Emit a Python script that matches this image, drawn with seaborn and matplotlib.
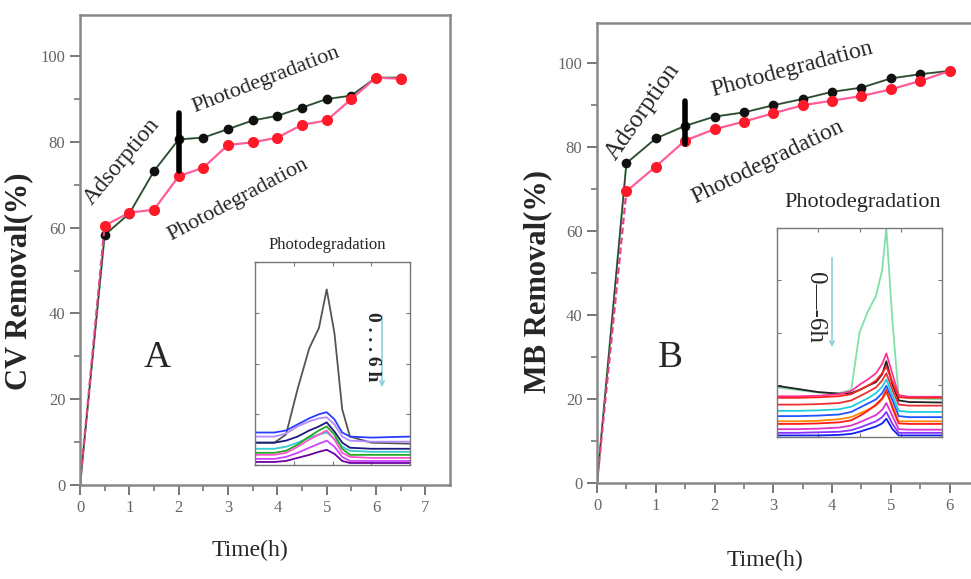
import numpy as np
import pandas as pd
import seaborn as sns
import matplotlib
matplotlib.use("Agg")
import matplotlib.pyplot as plt

# main removal curves
time_a = [0, 0.5, 1, 1.5, 2, 2.5, 3, 3.5, 4, 4.5, 5, 5.5, 6, 6.5]
cv_black = [0, 58.3, 63.3, 73.2, 80.6, 81.0, 83.0, 85.0, 86.1, 88.0, 90.0, 90.8, 95.0, 95.0]
cv_red = [0, 60.5, 63.5, 64.2, 72.0, 74.0, 79.3, 79.9, 81.0, 84.0, 85.0, 90.0, 95.0, 94.7]

time_b = [0, 0.5, 1, 1.5, 2, 2.5, 3, 3.5, 4, 4.5, 5, 5.5, 6]
mb_black = [0, 76.2, 82.1, 85.1, 87.3, 88.3, 90.0, 91.5, 93.2, 94.2, 96.4, 97.4, 98.2]
mb_red = [0, 69.5, 75.4, 81.6, 84.3, 86.1, 88.1, 90.0, 91.1, 92.2, 93.8, 95.8, 98.2]

# adsorption / photodegradation switch bars
bar_a = [2, 73.2, 86.8]
bar_b = [1.5, 80.8, 91.0]

# inset A spectra (CV)
wl_a = [400, 450, 480, 510, 540, 565, 585, 605, 625, 645, 700, 800]
spec_a = {
    "s0": [0.22, 0.22, 0.30, 0.75, 1.15, 1.35, 1.73, 1.30, 0.55, 0.28, 0.22, 0.21],
    "s1": [0.32, 0.32, 0.34, 0.40, 0.46, 0.50, 0.52, 0.45, 0.32, 0.28, 0.27, 0.28],
    "s2": [0.28, 0.28, 0.31, 0.38, 0.43, 0.46, 0.47, 0.40, 0.28, 0.24, 0.23, 0.23],
    "s3": [0.22, 0.22, 0.24, 0.28, 0.34, 0.38, 0.42, 0.33, 0.22, 0.17, 0.16, 0.16],
    "s4": [0.16, 0.16, 0.18, 0.22, 0.27, 0.30, 0.32, 0.26, 0.18, 0.14, 0.13, 0.13],
    "s5": [0.12, 0.12, 0.14, 0.20, 0.28, 0.34, 0.38, 0.30, 0.16, 0.10, 0.10, 0.10],
    "s6": [0.10, 0.10, 0.12, 0.18, 0.25, 0.30, 0.34, 0.25, 0.12, 0.08, 0.07, 0.07],
    "s7": [0.06, 0.06, 0.08, 0.12, 0.17, 0.21, 0.24, 0.18, 0.08, 0.04, 0.04, 0.04],
    "s8": [0.03, 0.03, 0.04, 0.07, 0.10, 0.13, 0.15, 0.11, 0.04, 0.02, 0.02, 0.02],
}
colors_a = ["#555555", "#2a3cff", "#b38cff", "#1a1a80", "#33cccc",
            "#22aa22", "#ff55cc", "#cc44ff", "#6a00a0"]

# inset B spectra (MB)
wl_b = [400, 450, 500, 550, 580, 600, 620, 640, 655, 665, 680, 695, 720, 800]
spec_b = {
    "g": [0.95, 0.90, 0.85, 0.84, 0.90, 2.00, 2.40, 2.70, 3.20, 4.00, 2.20, 0.78, 0.74, 0.72],
    "k": [0.98, 0.92, 0.86, 0.83, 0.84, 0.90, 0.98, 1.05, 1.20, 1.45, 1.00, 0.70, 0.67, 0.66],
    "p": [0.78, 0.78, 0.79, 0.82, 0.88, 1.00, 1.10, 1.22, 1.40, 1.60, 1.20, 0.80, 0.77, 0.77],
    "r1": [0.75, 0.75, 0.76, 0.78, 0.82, 0.90, 0.98, 1.08, 1.22, 1.35, 1.05, 0.76, 0.75, 0.75],
    "r2": [0.62, 0.62, 0.63, 0.65, 0.70, 0.78, 0.86, 0.95, 1.08, 1.22, 0.90, 0.62, 0.60, 0.60],
    "c": [0.50, 0.50, 0.51, 0.53, 0.58, 0.66, 0.74, 0.84, 0.96, 1.10, 0.80, 0.50, 0.48, 0.48],
    "b": [0.40, 0.40, 0.41, 0.43, 0.48, 0.56, 0.64, 0.72, 0.84, 0.98, 0.70, 0.40, 0.38, 0.38],
    "o": [0.30, 0.30, 0.31, 0.34, 0.38, 0.45, 0.52, 0.60, 0.72, 0.85, 0.60, 0.30, 0.30, 0.30],
    "r3": [0.25, 0.25, 0.26, 0.28, 0.32, 0.40, 0.50, 0.62, 0.74, 0.90, 0.55, 0.26, 0.25, 0.25],
    "m": [0.15, 0.15, 0.16, 0.18, 0.22, 0.28, 0.35, 0.42, 0.52, 0.65, 0.40, 0.15, 0.14, 0.14],
    "v": [0.08, 0.08, 0.09, 0.10, 0.13, 0.18, 0.24, 0.30, 0.38, 0.48, 0.25, 0.08, 0.08, 0.08],
    "b2": [0.03, 0.03, 0.03, 0.04, 0.06, 0.10, 0.15, 0.20, 0.26, 0.35, 0.15, 0.03, 0.03, 0.03],
}
colors_b = ["#7fe0a8", "#222222", "#ff3399", "#ff2020", "#ee3030", "#22ccdd",
            "#2255ff", "#ff8800", "#ff1a1a", "#dd33cc", "#8833ff", "#1020ee"]

sns.set_style("white")
plt.rcParams["font.family"] = ["Liberation Serif", "DejaVu Serif"]

W, H = 971, 579
fig = plt.figure(figsize=(W / 100, H / 100), dpi=100)


def box(l, t, r, b):
    return [l / W, (H - b) / H, (r - l) / W, (b - t) / H]


def style_main(ax, xmax, xlabel, ylabel, xl_pos, yl_pos):
    ax.set_xlim(0, xmax)
    ax.set_ylim(0, 109.6)
    ax.set_xticks(range(0, int(xmax) + 1))
    ax.set_xticks(np.arange(0, xmax, 0.5), minor=True)
    ax.set_yticks(range(0, 101, 20))
    ax.set_yticks(range(10, 101, 20), minor=True)
    ax.tick_params(which="major", direction="out", length=7, width=1.4,
                   color="#777777", labelcolor="#666666", labelsize=12,
                   bottom=True, left=True)
    ax.tick_params(which="minor", direction="out", length=4, width=1.2,
                   color="#777777", bottom=True, left=True)
    for s in ax.spines.values():
        s.set_color("#888888")
        s.set_linewidth(1.8)
    ax.set_xlabel(xlabel, fontsize=17)
    ax.set_ylabel(ylabel, fontsize=22, fontweight="bold")
    ax.xaxis.set_label_coords(*xl_pos)
    ax.yaxis.set_label_coords(*yl_pos)


def draw_series(ax, t, black, red, bar):
    sns.lineplot(x=t, y=black, ax=ax, color="#5cb86a", lw=1.5)
    sns.lineplot(x=t, y=black, ax=ax, color="#3a3a3a", lw=1.0,
                 marker="o", markersize=7, markeredgewidth=0,
                 markerfacecolor="#111111",
                 markevery=list(range(1, len(t))))
    sns.lineplot(x=t[:2], y=red[:2], ax=ax, color="#e0408a", lw=1.6,
                 linestyle=(0, (3, 1.5)))
    sns.lineplot(x=t[1:], y=red[1:], ax=ax, color="#ff5c9a", lw=1.6,
                 marker="o", markersize=8, markerfacecolor="#ff1a2a",
                 markeredgewidth=0)
    ax.plot([bar[0], bar[0]], [bar[1], bar[2]], color="black", lw=4,
            solid_capstyle="round")


def draw_inset(ax, wl, spec, colors, ymax):
    df = pd.DataFrame([(w, k, v) for k, vals in spec.items()
                       for w, v in zip(wl, vals)], columns=["wl", "s", "A"])
    sns.lineplot(data=df, x="wl", y="A", hue="s", palette=colors, ax=ax,
                 lw=1.3, legend=False)
    ax.set_xlim(wl[0], wl[-1])
    ax.set_ylim(0, ymax)
    ax.set_xticks(np.linspace(wl[0], wl[-1], 5))
    ax.set_yticks(np.linspace(0, ymax, 5))
    ax.set_xticklabels([])
    ax.set_yticklabels([])
    ax.tick_params(direction="in", length=3, width=0.8, color="#777777",
                   top=True, right=True, bottom=True, left=True)
    ax.set_xlabel("")
    ax.set_ylabel("")
    for s in ax.spines.values():
        s.set_color("#777777")
        s.set_linewidth(1.0)


# panel A
ax1 = fig.add_axes(box(80, 15, 450, 485))
draw_series(ax1, time_a, cv_black, cv_red, bar_a)
style_main(ax1, 7.5, "Time(h)", "CV Removal(%)", (0.46, -0.117), (-0.127, 0.434))
ax1.text(0.85, 75.5, "Adsorption", fontsize=17, rotation=50,
         ha="center", va="center")
ax1.text(3.77, 94.4, "Photodegradation", fontsize=16, rotation=21,
         ha="center", va="center")
ax1.text(3.2, 66.5, "Photodegradation", fontsize=16, rotation=28,
         ha="center", va="center")
ax1.text(1.56, 29.6, "A", fontsize=27, ha="center", va="center")

# panel B
ax2 = fig.add_axes(box(597, 23, 972, 483))
draw_series(ax2, time_b, mb_black, mb_red, bar_b)
style_main(ax2, 6.38, "Time(h)", "MB Removal(%)", (0.448, -0.146), (-0.12, 0.437))
ax2.text(0.78, 88.5, "Adsorption", fontsize=18, rotation=55,
         ha="center", va="center")
ax2.text(3.32, 98.6, "Photodegradation", fontsize=17, rotation=15,
         ha="center", va="center")
ax2.text(2.9, 76.4, "Photodegradation", fontsize=17, rotation=26,
         ha="center", va="center")
ax2.text(1.24, 29.8, "B", fontsize=27, ha="center", va="center")

# insets
ins1 = fig.add_axes(box(255, 262, 410, 465))
draw_inset(ins1, wl_a, spec_a, colors_a, 2.0)
fig.text(327 / W, 1 - 245 / H, "Photodegradation", fontsize=12,
         ha="center", va="center")
fig.text(373 / W, 1 - 347 / H, "0 . . . 6 h", fontsize=14, fontweight="bold",
         rotation=-90, ha="center", va="center")
fig.patches.append(matplotlib.patches.FancyArrowPatch(
    (382 / W, 1 - 313 / H), (382 / W, 1 - 390 / H), transform=fig.transFigure,
    arrowstyle="->", mutation_scale=8, color="#8ecfe0", lw=1.2))

ins2 = fig.add_axes(box(777, 228, 942, 437))
draw_inset(ins2, wl_b, spec_b, colors_b, 4.0)
fig.text(863 / W, 1 - 202 / H, "Photodegradation", fontsize=16,
         ha="center", va="center")
fig.text(815 / W, 1 - 308 / H, "0\u2014-6h", fontsize=18,
         rotation=-90, ha="center", va="center")
fig.patches.append(matplotlib.patches.FancyArrowPatch(
    (832 / W, 1 - 255 / H), (832 / W, 1 - 350 / H), transform=fig.transFigure,
    arrowstyle="->", mutation_scale=8, color="#8ecfe0", lw=1.2))

plt.savefig("out.png", dpi=100)
